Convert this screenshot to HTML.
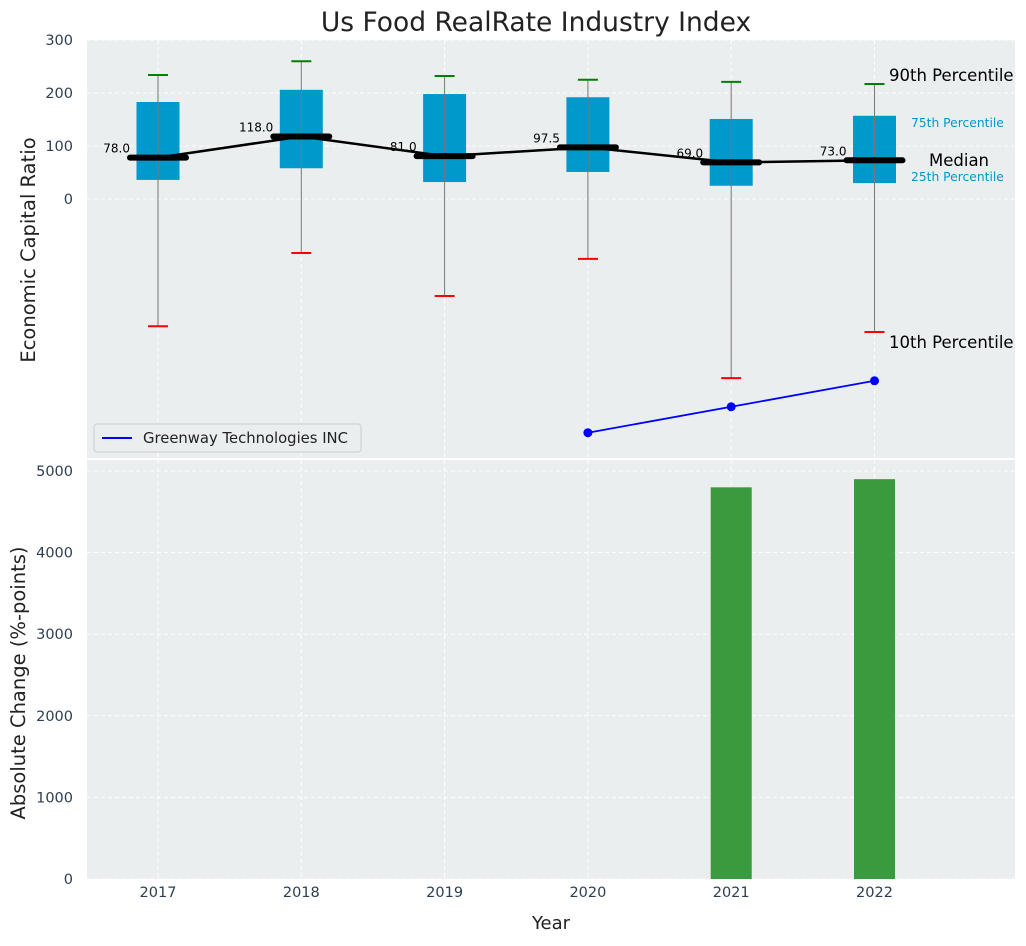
<!DOCTYPE html>
<html><head><meta charset="utf-8"><style>
body{margin:0;background:#fff;font-family:"DejaVu Sans","Liberation Sans",sans-serif;}
svg text{font-family:"DejaVu Sans","Liberation Sans",sans-serif;}
</style></head><body>
<svg id="chart" width="1026" height="942" xmlns="http://www.w3.org/2000/svg"></svg>
<script>
const years=["2017","2018","2019","2020","2021","2022"];
const medians=[78,118,81,97.5,69,73];
const q1=[36,58,32,51,25,30];
const q3=[183,206,198,192,151,157];
const p90=[234,260,232,225,221,217];
const p10=[-240,-102,-183,-113,-338,-251];
const compYears=[3,4,5];
const compValues=[-441,-392,-343];
const changeYears=[4,5];
const changeValues=[4800,4900];
const topTicks=[0,100,200,300];
const botTicks=[0,1000,2000,3000,4000,5000];

const svg=document.getElementById('chart');
const NS='http://www.w3.org/2000/svg';
function mk(tag,attrs,parent,name,txt){const e=document.createElementNS(NS,tag);for(const k in attrs)e.setAttribute(k,attrs[k]);


if(txt!==undefined)e.textContent=txt;(parent||svg).appendChild(e);return e;}
const L=87,R=1015;
const X=i=>158+i*143.3;
const Y1=v=>199-v*0.53;
const Y2=v=>879-v*0.0816;
mk('rect',{x:L,y:40,width:R-L,height:418,fill:'#eaeeee'},svg,'top-plot-area');
mk('rect',{x:L,y:460,width:R-L,height:419,fill:'#eaeeee'},svg,'bottom-plot-area');
years.forEach((y,i)=>{
 mk('line',{x1:X(i),x2:X(i),y1:40,y2:458,stroke:'#fff','stroke-dasharray':'4,3','stroke-width':1},svg,'top-vgrid');
 mk('line',{x1:X(i),x2:X(i),y1:460,y2:879,stroke:'#fff','stroke-dasharray':'4,3','stroke-width':1},svg,'bottom-vgrid');
 mk('text',{x:X(i),y:897,'text-anchor':'middle','font-size':14.5,fill:'#2e3e50'},svg,'x-tick-label',y);
});
topTicks.forEach(t=>{
 mk('line',{x1:L,x2:R,y1:Y1(t),y2:Y1(t),stroke:'#fff','stroke-dasharray':'4,3'},svg,'top-hgrid');
 mk('text',{x:73,y:Y1(t)+5,'text-anchor':'end','font-size':14.5,fill:'#2e3e50'},svg,'y-tick-label',t);
});
botTicks.forEach(t=>{
 mk('line',{x1:L,x2:R,y1:Y2(t),y2:Y2(t),stroke:'#fff','stroke-dasharray':'4,3'},svg,'bottom-hgrid');
 mk('text',{x:73,y:Y2(t)+5,'text-anchor':'end','font-size':14.5,fill:'#2e3e50'},svg,'y2-tick-label',t);
});
years.forEach((y,i)=>{
 const x=X(i);
 mk('rect',{x:x-21.5,y:Y1(q3[i]),width:43,height:Y1(q1[i])-Y1(q3[i]),fill:'#0099cc'},svg,'box-'+y);
 mk('line',{x1:x,x2:x,y1:Y1(p90[i]),y2:Y1(p10[i]),stroke:'#777','stroke-width':1},svg,'whisker-'+y);
 mk('line',{x1:x-10,x2:x+10,y1:Y1(p90[i]),y2:Y1(p90[i]),stroke:'green','stroke-width':2},svg,'cap-90-'+y);
 mk('line',{x1:x-10,x2:x+10,y1:Y1(p10[i]),y2:Y1(p10[i]),stroke:'red','stroke-width':2},svg,'cap-10-'+y);
});
mk('polyline',{points:medians.map((m,i)=>X(i)+','+Y1(m)).join(' '),fill:'none',stroke:'#000','stroke-width':2.5},svg,'median-line');
years.forEach((y,i)=>{
 const x=X(i);
 mk('line',{x1:x-28,x2:x+28,y1:Y1(medians[i]),y2:Y1(medians[i]),stroke:'#000','stroke-width':6,'stroke-linecap':'round'},svg,'median-'+y);
 mk('text',{x:x-28,y:Y1(medians[i])-5,'text-anchor':'end','font-size':12,fill:'#000'},svg,'median-label',medians[i].toFixed(1));
});
mk('polyline',{points:compYears.map((k,j)=>X(k)+','+Y1(compValues[j])).join(' '),fill:'none',stroke:'blue','stroke-width':1.8},svg,'company-line');
compYears.forEach((k,j)=>mk('circle',{cx:X(k),cy:Y1(compValues[j]),r:4.5,fill:'blue'},svg,'company-point'));
mk('text',{x:889,y:81,'font-size':16.5,fill:'#000'},svg,'label-90th','90th Percentile');
mk('text',{x:911,y:127,'font-size':12.3,fill:'#0099cc'},svg,'label-75th','75th Percentile');
mk('text',{x:929,y:166,'font-size':16.5,fill:'#000'},svg,'label-median','Median');
mk('text',{x:911,y:181,'font-size':12.3,fill:'#0099cc'},svg,'label-25th','25th Percentile');
mk('text',{x:889,y:348,'font-size':16.5,fill:'#000'},svg,'label-10th','10th Percentile');
const lg=mk('g',{},svg,'legend');
mk('rect',{x:94,y:424,width:267,height:28,rx:3,fill:'#eaeeee',stroke:'#ccc'},lg,'legend-box');
mk('line',{x1:102,x2:132,y1:438,y2:438,stroke:'blue','stroke-width':2},lg,'legend-line');
mk('text',{x:143,y:443,'font-size':14.8,fill:'#222'},lg,'legend-label','Greenway Technologies INC');
changeYears.forEach((k,j)=>mk('rect',{x:X(k)-20.5,y:Y2(changeValues[j]),width:41,height:Y2(0)-Y2(changeValues[j]),fill:'#3a9a3e'},svg,'bar-'+years[k]));
mk('text',{x:536,y:31,'text-anchor':'middle','font-size':26.5,fill:'#222'},svg,'chart-title','Us Food RealRate Industry Index');
mk('text',{x:35,y:250,'text-anchor':'middle','font-size':19.5,fill:'#222',transform:'rotate(-90 35 250)'},svg,'y-axis-title','Economic Capital Ratio');
mk('text',{x:25,y:683,'text-anchor':'middle','font-size':19.5,fill:'#222',transform:'rotate(-90 25 683)'},svg,'y2-axis-title','Absolute Change (%-points)');
mk('text',{x:551,y:929,'text-anchor':'middle','font-size':18,fill:'#222'},svg,'x-axis-title','Year');
</script>
</body></html>
